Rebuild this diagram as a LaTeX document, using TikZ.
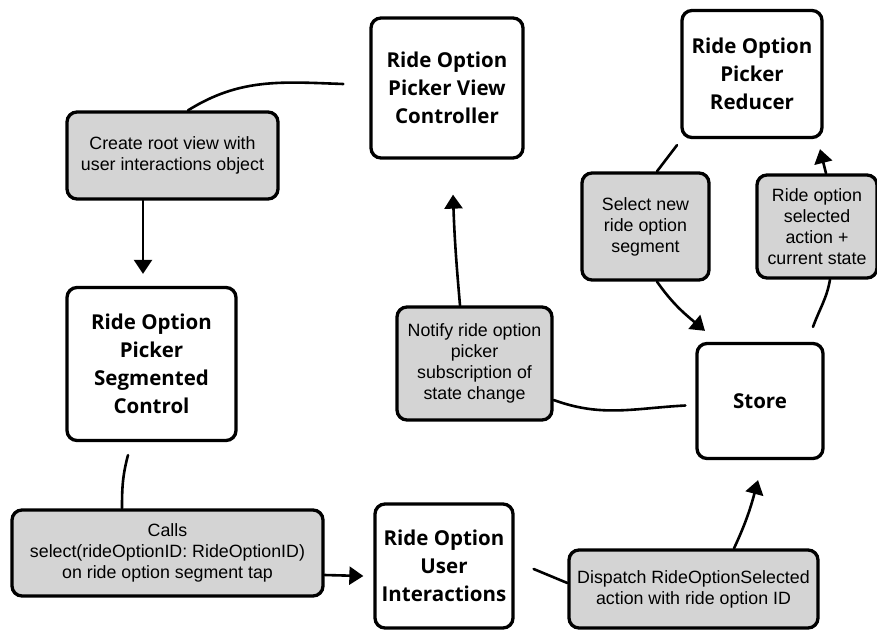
\documentclass[tikz,border=0pt]{standalone}
\usepackage{fontspec}
\newfontfamily\titlefont{Open Sans}
\newfontfamily\labelfont{Liberation Sans}
\usetikzlibrary{arrows.meta,calc}
\definecolor{boxgray}{RGB}{212,212,212}
\begin{document}
\begin{tikzpicture}[x=1pt,y=-1pt,
  box/.style={draw=black, line width=3.3pt, rounded corners=10pt, align=center, inner sep=0pt},
  tbox/.style={box, fill=white, font=\titlefont\bfseries\fontsize{20.5}{28}\selectfont},
  lbox/.style={box, fill=boxgray, font=\labelfont\fontsize{17.8}{21}\selectfont},
  conn/.style={line width=2.6pt, line cap=round},
  arr/.style={conn, -{Triangle[length=14pt,width=18pt]}}
]
\fill[white] (0,0) rectangle (877,629);
\useasboundingbox (0,0) rectangle (877,629);

% main boxes
\node[tbox, minimum width=152pt, minimum height=140pt] (vc) at (447,88) {Ride Option\\Picker View\\Controller};
\node[tbox, minimum width=140pt, minimum height=127pt] (red) at (752,74) {Ride Option\\Picker\\Reducer};
\node[tbox, minimum width=169pt, minimum height=153pt] (seg) at (151.5,364) {Ride Option\\Picker\\Segmented\\Control};
\node[tbox, minimum width=138pt, minimum height=124pt] (ui) at (444,566) {Ride Option\\User\\Interactions};
\node[tbox, minimum width=126pt, minimum height=115pt] (store) at (760,401) {Store};

% label boxes
\node[lbox, minimum width=211pt, minimum height=87pt] (create) at (172.5,155.5) {Create root view with\\user interactions object};
\node[lbox, minimum width=311pt, minimum height=86pt] (calls) at (167.5,553) {Calls\\select(rideOptionID: RideOptionID)\\on ride option segment tap};
\node[lbox, minimum width=249pt, minimum height=78pt] (disp) at (693.5,589) {Dispatch RideOptionSelected\\action with ride option ID};
\node[lbox, minimum width=155pt, minimum height=113pt] (notify) at (474.5,363.5) {Notify ride option\\picker\\subscription of\\state change};
\node[lbox, minimum width=127pt, minimum height=107pt] (select) at (645.5,226.5) {Select new\\ride option\\segment};
\node[lbox, minimum width=120pt, minimum height=103pt] (rosel) at (817,226.5) {Ride option\\selected\\action +\\current state};

% connectors
\draw[conn] ([xshift=-26pt,yshift=4pt]vc.west) to[out=178,in=32] ([xshift=15.5pt]create.north);
\draw[arr] ([xshift=-29.5pt]create.south) -- ([xshift=-8.5pt,yshift=12pt]seg.north);
\draw[conn] ([xshift=-23.5pt,yshift=-13pt]seg.south) to[out=-105,in=90] ([xshift=-45.5pt]calls.north);
\draw[arr] ([yshift=-22pt]calls.east) -- ([xshift=-10pt,yshift=-10pt]ui.west);
\draw[conn] ([xshift=19pt,yshift=-3pt]ui.east) -- ([yshift=6pt]disp.west);
\draw[arr] ([xshift=40.5pt]disp.north) to[out=65,in=-105] ([xshift=-2pt,yshift=-20pt]store.south);
\draw[conn] ([xshift=-10pt,yshift=-4.5pt]store.west) to[out=183,in=-20] ([yshift=-36.5pt]notify.east);
\draw[arr] ([xshift=-14.5pt]notify.north) to[out=95,in=-88] ([xshift=6pt,yshift=-35pt]vc.south);
\draw[conn] ([xshift=-75pt,yshift=-6pt]red.south) -- ([xshift=11.5pt]select.north);
\draw[arr] ([xshift=11.5pt]select.south) to[out=-55,in=140] ([xshift=-55pt,yshift=11pt]store.north);
\draw[arr] ([xshift=9pt]rosel.north) -- ([xshift=68pt,yshift=-10pt]red.south);
\draw[conn] ([xshift=53pt,yshift=15pt]store.north) to[out=70,in=-100] ([xshift=13pt]rosel.south);
\end{tikzpicture}
\end{document}
